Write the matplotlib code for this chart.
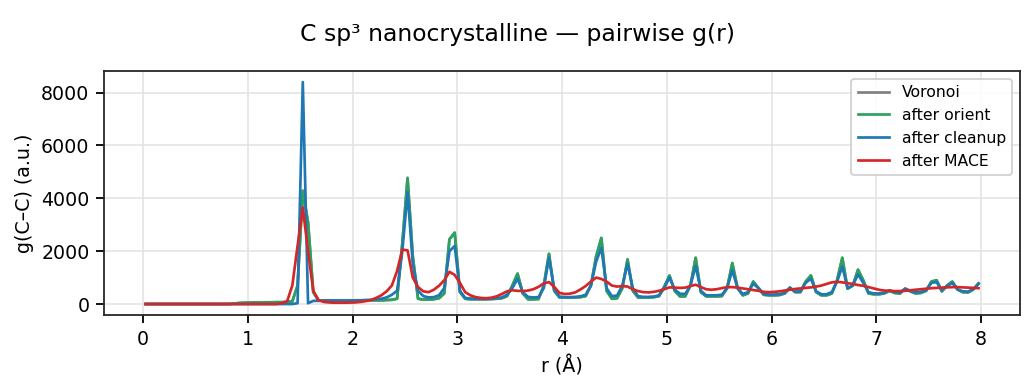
import numpy as np
import matplotlib
matplotlib.use("Agg")
import matplotlib.pyplot as plt

# bin centres (Å)
r = np.round(np.arange(160) * 0.05 + 0.025, 3)

voronoi = [0]*17 + [20, 40, 50, 55, 60, 60, 65, 65, 70, 70, 80,
    100, 700, 4300, 3100, 450, 130, 130, 130, 130, 130, 130, 130,
    140, 140, 140, 140, 140, 140, 150, 160, 200, 2300, 4780, 1800, 200, 170, 170, 180, 220, 400,
    2450, 2700, 450,
    200, 180, 180, 180, 180, 190, 200, 220, 300, 700, 1150, 400, 180, 180, 190, 700, 1900, 500, 250,
    250, 250, 250, 260, 300, 700, 1800, 2500, 500, 200, 220, 600, 1690, 500, 250, 250, 250, 260, 300, 650,
    1080, 500, 290, 290, 700, 1750, 450, 290, 290, 290, 300, 600, 1550, 600, 330, 400, 850, 600, 350, 330,
    330, 340, 400, 620, 450, 450, 850, 1080, 450, 330, 330, 400, 900, 1750, 580, 700, 1300, 900, 400, 370,
    370, 400, 500, 420, 400, 580, 480, 400, 420, 500, 850, 900, 480, 700, 850, 550, 450, 440, 550, 780]

orient = [0]*17 + [20, 40, 50, 55, 60, 60, 65, 65, 70, 70, 80,
    100, 700, 4250, 3100, 450, 130, 130, 130, 130, 130, 130, 130,
    140, 140, 140, 140, 140, 140, 150, 160, 200, 2300, 4750, 1800, 200, 170, 170, 180, 220, 400,
    2450, 2700, 450,
    200, 180, 180, 180, 180, 190, 200, 220, 300, 700, 1150, 400, 180, 180, 190, 700, 1900, 500, 250,
    250, 250, 250, 260, 300, 700, 1800, 2500, 500, 200, 220, 600, 1690, 500, 250, 250, 250, 260, 300, 650,
    1080, 500, 290, 290, 700, 1750, 450, 290, 290, 290, 300, 600, 1550, 600, 330, 400, 850, 600, 350, 330,
    330, 340, 400, 620, 450, 450, 850, 1080, 450, 330, 330, 400, 900, 1750, 580, 700, 1300, 900, 400, 370,
    370, 400, 500, 420, 400, 580, 480, 400, 420, 500, 850, 900, 480, 700, 850, 550, 450, 440, 550, 780]

cleanup = [0]*29 + [
    30, 8400, 30, 120, 120, 130, 130, 130, 130, 130, 130,
    140, 140, 150, 160, 180, 200, 250, 350, 500, 2000, 4230, 1500, 500, 300, 250, 260, 330, 600,
    2000, 2200, 500,
    230, 210, 200, 200, 200, 200, 220, 250, 350, 600, 960, 450, 270, 250, 260, 600, 1750, 550, 280,
    260, 260, 270, 290, 350, 700, 1600, 2130, 600, 300, 320, 700, 1520, 600, 300, 270, 270, 280, 330, 600,
    1000, 550, 390, 380, 700, 1440, 500, 330, 330, 330, 350, 600, 1280, 600, 380, 450, 770, 600, 380, 360,
    360, 370, 420, 620, 470, 480, 800, 960, 480, 370, 370, 450, 850, 1420, 600, 700, 1120, 800, 450, 400,
    400, 430, 520, 450, 430, 580, 500, 440, 460, 520, 800, 830, 520, 680, 800, 550, 480, 470, 560, 760]

mace = [0]*26 + [30, 100,
    700, 2200, 3660, 2000, 500, 150, 80, 60, 50, 50, 50, 55,
    60, 80, 110, 150, 230, 330, 480, 700, 1250, 2060, 2030, 1000, 640, 480, 450, 540, 690, 900,
    1220, 1100, 800,
    450, 330, 260, 230, 220, 240, 290, 380, 480, 520, 500, 490, 510, 560, 650, 780, 830, 650, 420,
    380, 390, 440, 550, 680, 850, 1000, 950, 850, 700, 660, 680, 660, 560, 490, 450, 440, 460, 500, 560,
    630, 620, 610, 620, 680, 730, 640, 560, 540, 560, 600, 640, 640, 620, 590, 560, 530, 500, 460, 450,
    460, 480, 510, 540, 570, 590, 610, 630, 660, 700, 760, 820, 840, 820, 790, 760, 720, 690, 640, 590,
    540, 510, 500, 490, 490, 500, 520, 540, 560, 580, 600, 610, 620, 630, 640, 640, 630, 620, 610, 600]

series = [
    ("Voronoi", voronoi, "#808080"),
    ("after orient", orient, "#2ca25f"),
    ("after cleanup", cleanup, "#1f77b4"),
    ("after MACE", mace, "#d62728"),
]

DPI = 130
fig = plt.figure(figsize=(1034 / DPI, 390 / DPI), dpi=DPI)
ax = fig.add_axes([0.1006, 0.192, 0.886, 0.626])
for label, vals, col in series:
    ax.plot(r, vals, color=col, lw=1.5, label=label)

ax.grid(True, color="#e3e3e3", lw=0.9)
ax.set_axisbelow(True)
ax.set_xlabel("r (Å)", fontsize=10.5)
ax.set_ylabel("g(C–C) (a.u.)", fontsize=10.5)
ax.tick_params(labelsize=10.5, length=4.5, width=1.0)
for s in ax.spines.values():
    s.set_color("#262626")
    s.set_linewidth(1.0)
ax.legend(loc="upper right", fontsize=8.7, framealpha=0.9, edgecolor="#cccccc")
fig.suptitle("C sp³ nanocrystalline — pairwise g(r)", fontsize=13, y=0.94)
fig.savefig("out.png", dpi=DPI)
